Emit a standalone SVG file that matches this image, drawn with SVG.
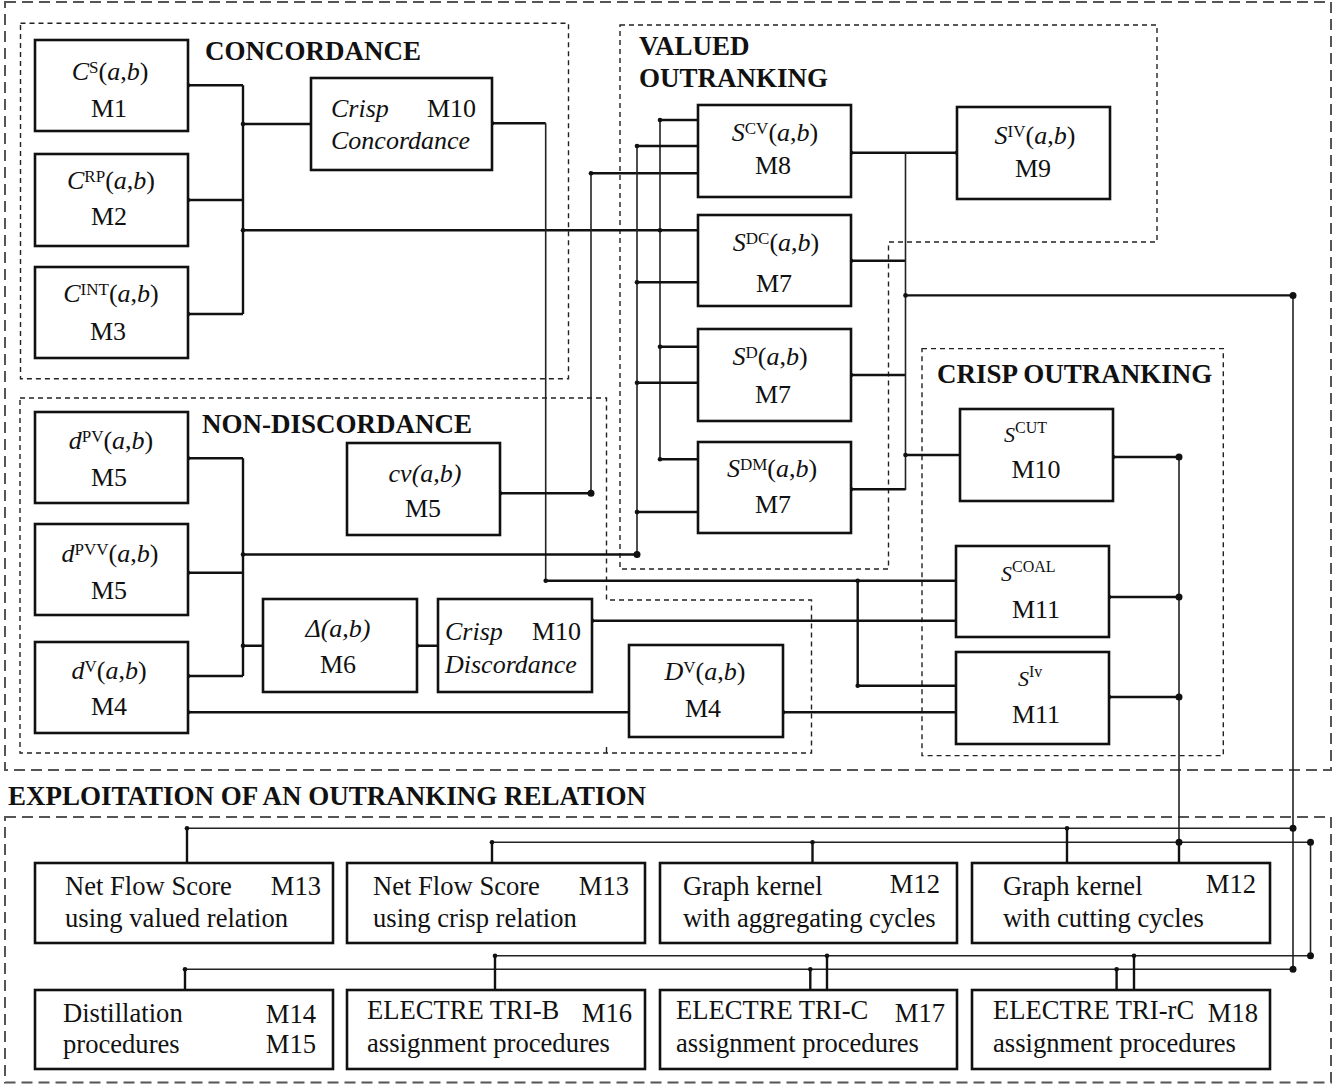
<svg xmlns="http://www.w3.org/2000/svg" width="1335" height="1084" viewBox="0 0 1335 1084">
  <style>
    text { font-family: "Liberation Serif", "Times New Roman", serif; font-size: 26px; fill: #111; }
    .h { font-weight: bold; font-size: 27px; }
    .i { font-style: italic; }
    .sup { font-size: 17px; }
    .S { font-size: 22px; font-style: italic; }
    .sup2 { font-size: 16px; }
    .b { font-size: 26.6px; }
    .mid { text-anchor: middle; }
    .end { text-anchor: end; }
    .box { fill: #fff; stroke: #111; stroke-width: 2.6; }
    .grp { fill: none; stroke: #222; stroke-width: 1.4; stroke-dasharray: 5 4; }
    .outer { fill: none; stroke: #555; stroke-width: 2; stroke-dasharray: 11 6; }
    .w { fill: none; stroke: #111; stroke-width: 2.4; }
    .tw { fill: none; stroke: #222; stroke-width: 1.6; }
    .dot { fill: #111; }
  </style>

  <!-- group frames -->
  <g id="frames">
    <rect class="outer" x="5" y="2" width="1326" height="768"/>
    <rect class="outer" x="5" y="817" width="1326" height="265.5"/>
    <rect class="grp" x="20.5" y="23.3" width="548" height="355.4"/>
    <polygon class="grp" points="620,25 1157,25 1157,242 888.5,242 888.5,569 620,569"/>
    <polygon class="grp" points="20,398 606.5,398 606.5,600 811.5,600 811.5,753 20,753"/>
    <line x1="606.5" y1="747" x2="606.5" y2="753" stroke="#222" stroke-width="1.4"/>
    <rect class="grp" x="922" y="348.6" width="301.3" height="407"/>
  </g>

  <!-- headings -->
  <g id="headings">
    <text class="h" x="205" y="60">CONCORDANCE</text>
    <text class="h" x="639" y="55">VALUED</text>
    <text class="h" x="639" y="87">OUTRANKING</text>
    <text class="h" x="202" y="433">NON-DISCORDANCE</text>
    <text class="h" x="937" y="383">CRISP OUTRANKING</text>
    <text class="h" x="8" y="805">EXPLOITATION OF AN OUTRANKING RELATION</text>
  </g>

  <!-- connectors -->
  <g id="connectors">
    <!-- concordance indices into crisp concordance and valued outranking -->
    <path class="w" d="M188,85.3 H243 M188,200 H243 M188,314 H243 M243,85.3 V314 M243,124 H311 M243,230.3 H698"/>
    <path class="w" d="M492,123.3 H545.7 M545.7,580.7 H956 M857.7,580.7 V685.7 H956"/>
    <path class="tw" d="M545.7,123.3 V580.7"/>
    <!-- discordance indices -->
    <path class="w" d="M188,458.3 H243 M188,572.7 H243 M188,676 H243 M243,458.3 V676 M243,554.5 H637 M243,645.7 H263.3 M417,645.7 H438"/>
    <path class="w" d="M592,620.7 H956 M188,712.3 H629 M783,712.3 H956"/>
    <path class="w" d="M500,493.3 H591 M591,173.3 H698"/>
    <path class="tw" d="M591,493.3 V173.3"/>
    <!-- left buses of the valued outranking relations -->
    <path class="tw" d="M637,554.5 V146 M660,120 V459.3"/>
    <path class="w" d="M637,146 H698 M637,282.3 H698 M637,382.7 H698 M637,512 H698 M660,120 H698 M660,346.7 H698 M660,459.3 H698"/>
    <!-- valued outputs -->
    <path class="w" d="M851,152.7 H957 M851,260.7 H905.5 M851,375 H905.5 M851,489.3 H905.5 M905.5,455 H960 M905.5,295.4 H1293"/>
    <path class="tw" d="M905.5,152.7 V490"/>
    <!-- crisp outputs -->
    <path class="w" d="M1113,457 H1179 M1109,597 H1179 M1109,697 H1179"/>
    <path class="tw" d="M1179,457 V863 M1293,295.4 V969.3"/>
    <!-- exploitation buses -->
    <path class="tw" d="M187,828.3 H1293 M492,842.3 H1310.5 V955.7 M495,955.7 H1310.5 M185,969.3 H1293"/>
    <path class="w" d="M187,828.3 V863 M1067,828.3 V863 M492,842.3 V863 M812.5,842.3 V863 M1179,842.3 V863"/>
    <path class="w" d="M185,969.3 V990 M495,955.7 V990 M810.3,969.3 V990 M827,955.7 V990 M1116.6,969.3 V990 M1134,955.7 V990"/>
    <g class="dot">
      <circle cx="188" cy="85.3" r="2.3"/><circle cx="188" cy="200" r="2.3"/><circle cx="188" cy="314" r="2.3"/>
      <circle cx="243" cy="124" r="2.3"/><circle cx="243" cy="230.3" r="2.3"/><circle cx="492" cy="123.3" r="2.3"/>
      <circle cx="660" cy="120" r="2.3"/><circle cx="660" cy="230.3" r="2.3"/><circle cx="637" cy="146" r="2.3"/>
      <circle cx="591" cy="173.3" r="2.3"/><circle cx="637" cy="282.3" r="2.3"/><circle cx="660" cy="346.7" r="2.3"/>
      <circle cx="637" cy="382.7" r="2.3"/><circle cx="660" cy="459.3" r="2.3"/><circle cx="637" cy="512" r="2.3"/>
      <circle cx="188" cy="458.3" r="2.3"/><circle cx="188" cy="572.7" r="2.3"/><circle cx="188" cy="676" r="2.3"/>
      <circle cx="188" cy="712.3" r="2.3"/><circle cx="243" cy="554.5" r="2.3"/><circle cx="243" cy="645.7" r="2.3"/>
      <circle cx="500" cy="493.3" r="2.3"/><circle cx="417" cy="645.7" r="2.3"/><circle cx="592" cy="620.7" r="2.3"/>
      <circle cx="545.7" cy="580.7" r="2.3"/><circle cx="857.7" cy="580.7" r="2.3"/><circle cx="857.7" cy="685.7" r="2.3"/>
      <circle cx="783" cy="712.3" r="2.3"/><circle cx="851" cy="152.7" r="2.3"/><circle cx="957" cy="152.7" r="2.3"/>
      <circle cx="851" cy="260.7" r="2.3"/><circle cx="851" cy="375" r="2.3"/><circle cx="851" cy="489.3" r="2.3"/>
      <circle cx="905.5" cy="295.4" r="2.3"/><circle cx="905.5" cy="455" r="2.3"/>
      <circle cx="1113" cy="457" r="2.3"/><circle cx="1109" cy="597" r="2.3"/><circle cx="1109" cy="697" r="2.3"/>
      <circle cx="187" cy="828.3" r="2.3"/><circle cx="1067" cy="828.3" r="2.3"/><circle cx="492" cy="842.3" r="2.3"/>
      <circle cx="812.5" cy="842.3" r="2.3"/><circle cx="495" cy="955.7" r="2.3"/><circle cx="827" cy="955.7" r="2.3"/>
      <circle cx="1134" cy="955.7" r="2.3"/><circle cx="185" cy="969.3" r="2.3"/><circle cx="810.3" cy="969.3" r="2.3"/>
      <circle cx="1116.6" cy="969.3" r="2.3"/>
      <circle cx="591" cy="493.3" r="3.5"/><circle cx="637" cy="554.5" r="3.5"/><circle cx="1293" cy="295.4" r="3.5"/>
      <circle cx="1179" cy="457" r="3.5"/><circle cx="1179" cy="597" r="3.5"/><circle cx="1179" cy="697" r="3.5"/>
      <circle cx="1179" cy="842.3" r="3.5"/><circle cx="1293" cy="828.3" r="3.5"/><circle cx="1310.5" cy="842.3" r="3.5"/>
      <circle cx="1310.5" cy="955.7" r="3.5"/><circle cx="1293" cy="969.3" r="3.5"/>
    </g>
  </g>

  <!-- concordance -->
  <g id="cs">
    <rect class="box" x="35" y="40" width="153" height="91"/>
    <text class="mid" x="110" y="80"><tspan class="i">C</tspan><tspan class="sup" dy="-7">S</tspan><tspan dy="7">(</tspan><tspan class="i">a</tspan>,<tspan class="i">b</tspan>)</text>
    <text class="mid" x="109" y="117">M1</text>
  </g>
  <g id="crp">
    <rect class="box" x="35" y="154" width="153" height="92"/>
    <text class="mid" x="111" y="188.5"><tspan class="i">C</tspan><tspan class="sup" dy="-7">RP</tspan><tspan dy="7">(</tspan><tspan class="i">a</tspan>,<tspan class="i">b</tspan>)</text>
    <text class="mid" x="109" y="225">M2</text>
  </g>
  <g id="cint">
    <rect class="box" x="35" y="267" width="153" height="91"/>
    <text class="mid" x="111" y="302"><tspan class="i">C</tspan><tspan class="sup" dy="-7">INT</tspan><tspan dy="7">(</tspan><tspan class="i">a</tspan>,<tspan class="i">b</tspan>)</text>
    <text class="mid" x="108" y="340">M3</text>
  </g>
  <g id="crisp-concordance">
    <rect class="box" x="311" y="78" width="181" height="92"/>
    <text class="i" x="331" y="117">Crisp</text>
    <text x="427" y="117">M10</text>
    <text class="i" x="331" y="148.5">Concordance</text>
  </g>

  <!-- valued outranking -->
  <g id="scv">
    <rect class="box" x="698" y="105" width="153" height="92"/>
    <text class="mid" x="775" y="141"><tspan class="i">S</tspan><tspan class="sup" dy="-7">CV</tspan><tspan dy="7">(</tspan><tspan class="i">a</tspan>,<tspan class="i">b</tspan>)</text>
    <text class="mid" x="773" y="174">M8</text>
  </g>
  <g id="siv">
    <rect class="box" x="957" y="107" width="153" height="92"/>
    <text class="mid" x="1035" y="144"><tspan class="i">S</tspan><tspan class="sup" dy="-7">IV</tspan><tspan dy="7">(</tspan><tspan class="i">a</tspan>,<tspan class="i">b</tspan>)</text>
    <text class="mid" x="1033" y="177">M9</text>
  </g>
  <g id="sdc">
    <rect class="box" x="698" y="215" width="153" height="91"/>
    <text class="mid" x="776" y="251"><tspan class="i">S</tspan><tspan class="sup" dy="-7">DC</tspan><tspan dy="7">(</tspan><tspan class="i">a</tspan>,<tspan class="i">b</tspan>)</text>
    <text class="mid" x="774" y="292">M7</text>
  </g>
  <g id="sd">
    <rect class="box" x="698" y="329" width="153" height="92"/>
    <text class="mid" x="770" y="365"><tspan class="i">S</tspan><tspan class="sup" dy="-7">D</tspan><tspan dy="7">(</tspan><tspan class="i">a</tspan>,<tspan class="i">b</tspan>)</text>
    <text class="mid" x="773" y="403">M7</text>
  </g>
  <g id="sdm">
    <rect class="box" x="698" y="442" width="153" height="91"/>
    <text class="mid" x="772" y="477"><tspan class="i">S</tspan><tspan class="sup" dy="-7">DM</tspan><tspan dy="7">(</tspan><tspan class="i">a</tspan>,<tspan class="i">b</tspan>)</text>
    <text class="mid" x="773" y="513">M7</text>
  </g>

  <!-- crisp outranking -->
  <g id="scut">
    <rect class="box" x="960" y="409" width="153" height="92"/>
    <text x="1004" y="442"><tspan class="S">S</tspan><tspan class="sup2" dy="-9">CUT</tspan></text>
    <text class="mid" x="1036" y="478">M10</text>
  </g>
  <g id="scoal">
    <rect class="box" x="956" y="546" width="153" height="91"/>
    <text x="1001" y="581"><tspan class="S">S</tspan><tspan class="sup2" dy="-9">COAL</tspan></text>
    <text class="mid" x="1036" y="618">M11</text>
  </g>
  <g id="siv-crisp">
    <rect class="box" x="956" y="652" width="153" height="92"/>
    <text x="1018" y="686"><tspan class="S">S</tspan><tspan class="sup2" dy="-9">Iv</tspan></text>
    <text class="mid" x="1036" y="723">M11</text>
  </g>

  <!-- non-discordance -->
  <g id="dpv">
    <rect class="box" x="35" y="412" width="153" height="91"/>
    <text class="mid" x="111" y="448.5"><tspan class="i">d</tspan><tspan class="sup" dy="-7">PV</tspan><tspan dy="7">(</tspan><tspan class="i">a</tspan>,<tspan class="i">b</tspan>)</text>
    <text class="mid" x="109" y="486">M5</text>
  </g>
  <g id="dpvv">
    <rect class="box" x="35" y="524" width="153" height="91"/>
    <text class="mid" x="110" y="562"><tspan class="i">d</tspan><tspan class="sup" dy="-7">PVV</tspan><tspan dy="7">(</tspan><tspan class="i">a</tspan>,<tspan class="i">b</tspan>)</text>
    <text class="mid" x="109" y="598.5">M5</text>
  </g>
  <g id="dv">
    <rect class="box" x="35" y="642" width="153" height="91"/>
    <text class="mid" x="109" y="678.5"><tspan class="i">d</tspan><tspan class="sup" dy="-7">V</tspan><tspan dy="7">(</tspan><tspan class="i">a</tspan>,<tspan class="i">b</tspan>)</text>
    <text class="mid" x="109" y="715">M4</text>
  </g>
  <g id="cv">
    <rect class="box" x="347" y="443" width="153" height="92"/>
    <text class="mid i" x="425" y="482">cv(a,b)</text>
    <text class="mid" x="423" y="517">M5</text>
  </g>
  <g id="delta">
    <rect class="box" x="263" y="599" width="154" height="93"/>
    <text class="mid i" x="338" y="637">Δ(a,b)</text>
    <text class="mid" x="338" y="673">M6</text>
  </g>
  <g id="crisp-discordance">
    <rect class="box" x="438" y="599" width="154" height="93"/>
    <text class="i" x="445" y="640">Crisp</text>
    <text x="532" y="640">M10</text>
    <text class="i" x="445" y="673">Discordance</text>
  </g>
  <g id="dv-big">
    <rect class="box" x="629" y="645" width="154" height="92"/>
    <text class="mid" x="705" y="680"><tspan class="i">D</tspan><tspan class="sup" dy="-7">V</tspan><tspan dy="7">(</tspan><tspan class="i">a</tspan>,<tspan class="i">b</tspan>)</text>
    <text class="mid" x="703" y="717">M4</text>
  </g>

  <!-- exploitation procedures -->
  <g id="nfs-valued">
    <rect class="box" x="35" y="863" width="298" height="80"/>
    <text class="b" x="65" y="895">Net Flow Score</text>
    <text class="b end" x="321" y="895">M13</text>
    <text class="b" x="65" y="927">using valued relation</text>
  </g>
  <g id="nfs-crisp">
    <rect class="box" x="347" y="863" width="298" height="80"/>
    <text class="b" x="373" y="895">Net Flow Score</text>
    <text class="b end" x="629" y="895">M13</text>
    <text class="b" x="373" y="927">using crisp relation</text>
  </g>
  <g id="kernel-agg">
    <rect class="box" x="660" y="863" width="297" height="80"/>
    <text class="b" x="683" y="895">Graph kernel</text>
    <text class="b end" x="940" y="893">M12</text>
    <text class="b" x="683" y="927">with aggregating cycles</text>
  </g>
  <g id="kernel-cut">
    <rect class="box" x="972" y="863" width="298" height="80"/>
    <text class="b" x="1003" y="895">Graph kernel</text>
    <text class="b end" x="1256" y="893">M12</text>
    <text class="b" x="1003" y="927">with cutting cycles</text>
  </g>
  <g id="distillation">
    <rect class="box" x="35" y="990" width="298" height="79"/>
    <text class="b" x="63" y="1022">Distillation</text>
    <text class="b end" x="316" y="1023">M14</text>
    <text class="b" x="63" y="1053">procedures</text>
    <text class="b end" x="316" y="1053">M15</text>
  </g>
  <g id="tri-b">
    <rect class="box" x="347" y="990" width="298" height="79"/>
    <text class="b" x="367" y="1019">ELECTRE TRI-B</text>
    <text class="b end" x="632" y="1022">M16</text>
    <text class="b" x="367" y="1052">assignment procedures</text>
  </g>
  <g id="tri-c">
    <rect class="box" x="660" y="990" width="297" height="79"/>
    <text class="b" x="676" y="1019">ELECTRE TRI-C</text>
    <text class="b end" x="945" y="1022">M17</text>
    <text class="b" x="676" y="1052">assignment procedures</text>
  </g>
  <g id="tri-rc">
    <rect class="box" x="972" y="990" width="298" height="79"/>
    <text class="b" x="993" y="1019">ELECTRE TRI-rC</text>
    <text class="b end" x="1258" y="1022">M18</text>
    <text class="b" x="993" y="1052">assignment procedures</text>
  </g>
</svg>
